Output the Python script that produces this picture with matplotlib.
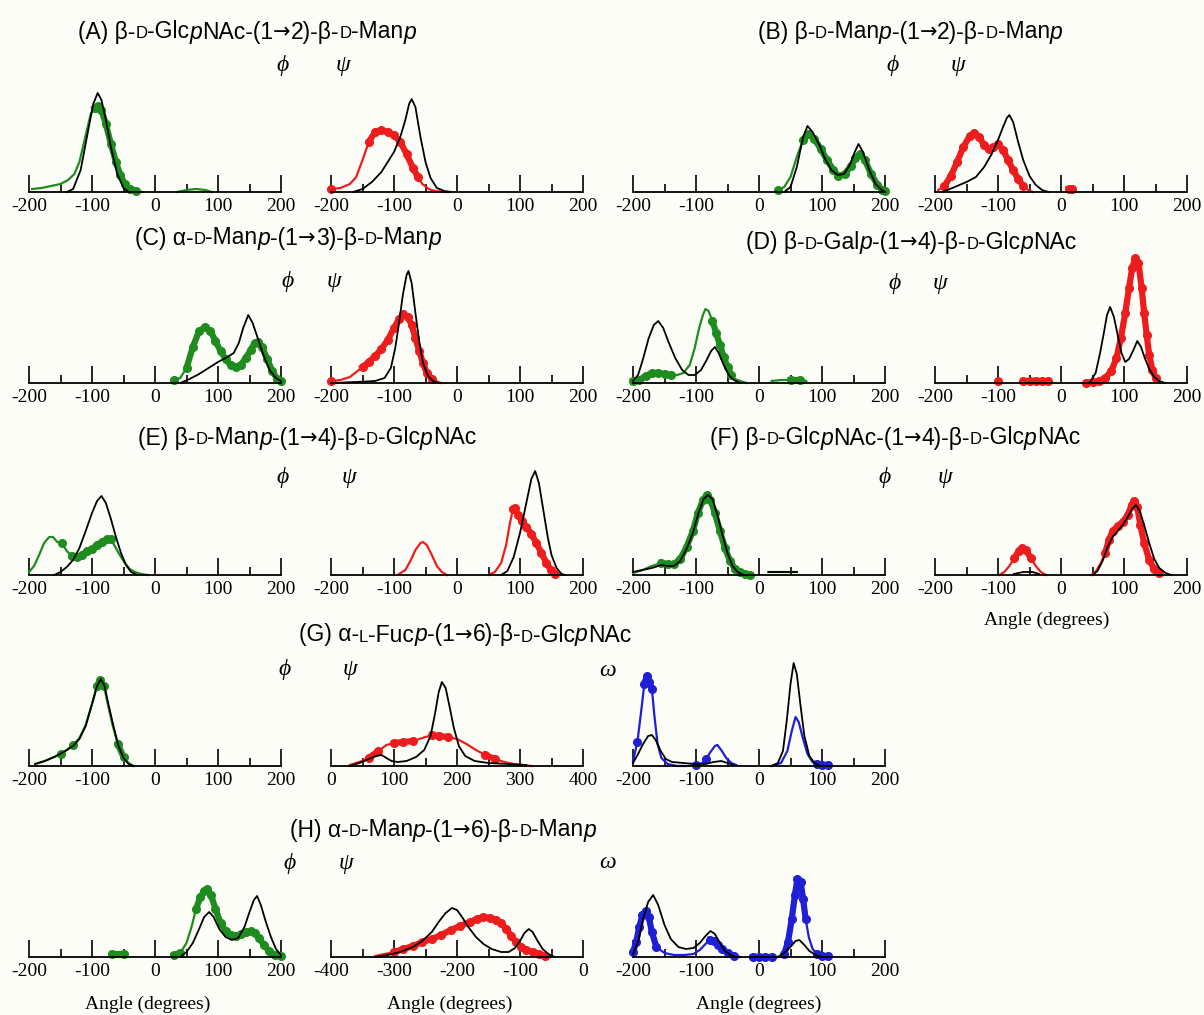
import numpy as np
import matplotlib
matplotlib.use('Agg')
import matplotlib.pyplot as plt
from matplotlib.offsetbox import TextArea, HPacker, AnnotationBbox

nan = float('nan')

# ---------------- data (angle in degrees, population density in arbitrary units) -------------
A_phi_black = [(-140,0),(-130,3),(-118,22),(-106,62),(-98,88),(-91,99),(-85,92),(-78,72),(-70,45),(-60,18),(-50,4),(-42,0)]
A_phi_green = [(-195,3),(-180,4),(-165,6),(-150,8),(-138,12),(-128,18),(-120,30),(-114,46),(-108,62),(-102,78),(-96,84),(-91,86),(-85,82),(-78,68),(-70,48),(-62,30),(-55,17),(-48,8),(-40,3),(-30,1),(-20,0),(25,nan),(35,0),(50,2),(65,3),(80,2),(90,0)]
A_phi_marks = [(-100,-30)]
A_psi_black = [(-165,0),(-150,3),(-135,10),(-120,20),(-110,30),(-100,40),(-90,55),(-82,72),(-76,88),(-72,93),(-66,85),(-58,55),(-50,30),(-42,14),(-32,4),(-20,1),(-10,0)]
A_psi_red = [(-200,3),(-185,4),(-170,8),(-160,15),(-150,32),(-140,50),(-130,60),(-120,62),(-110,60),(-100,57),(-90,50),(-80,38),(-70,24),(-62,15),(-55,8),(-45,3),(-35,1),(-20,0),(-10,0)]
A_psi_marks = [(-200,-200),(-140,-60)]

B_phi_black = [(40,0),(50,5),(60,25),(70,55),(77,66),(85,60),(95,48),(105,33),(115,22),(125,17),(135,18),(145,28),(152,40),(158,48),(165,40),(175,22),(185,8),(195,2),(200,0)]
B_phi_green = [(30,2),(40,5),(50,15),(60,35),(70,52),(78,58),(88,53),(98,43),(108,32),(118,22),(126,16),(136,18),(146,26),(153,34),(160,38),(168,32),(178,18),(188,7),(196,2),(200,1)]
B_phi_marks = [(30,30),(65,200)]
B_psi_black = [(-190,0),(-180,2),(-165,6),(-150,10),(-135,15),(-122,25),(-110,38),(-100,52),(-92,65),(-86,74),(-82,77),(-76,70),(-68,50),(-60,32),(-50,16),(-40,7),(-30,2),(-20,0)]
B_psi_red = [(-195,2),(-185,6),(-175,16),(-165,30),(-155,45),(-145,56),(-138,59),(-130,55),(-122,47),(-115,43),(-108,45),(-100,48),(-92,42),(-84,32),(-76,22),(-68,13),(-60,6),(-52,2),(-45,0),(0,nan),(12,3),(18,3)]
B_psi_marks = [(-185,-60),(10,20)]

C_phi_black = [(40,0),(55,4),(70,9),(85,15),(100,21),(115,26),(125,30),(133,40),(140,55),(148,68),(155,60),(163,45),(172,28),(182,13),(192,5),(200,2)]
C_phi_green = [(30,3),(40,5),(50,15),(60,36),(70,52),(80,56),(88,52),(96,42),(104,32),(112,24),(120,18),(128,16),(136,18),(144,25),(152,33),(158,40),(164,41),(170,36),(178,24),(186,12),(194,4),(200,2)]
C_phi_marks = [(30,30),(50,200)]
C_psi_black = [(-200,0),(-160,1),(-130,2),(-115,5),(-105,15),(-98,35),(-92,60),(-86,88),(-80,108),(-77,112),(-72,100),(-66,70),(-60,42),(-54,20),(-46,7),(-38,2),(-30,0)]
C_psi_red = [(-200,2),(-185,3),(-170,6),(-158,12),(-150,16),(-140,21),(-130,27),(-120,34),(-110,43),(-100,55),(-92,64),(-85,69),(-78,66),(-72,58),(-66,45),(-60,32),(-54,20),(-48,10),(-40,4),(-30,1),(-25,0)]
C_psi_marks = [(-200,-200),(-155,-40)]

D_phi_black = [(-200,2),(-192,8),(-185,22),(-175,45),(-167,58),(-160,62),(-152,55),(-143,40),(-133,25),(-122,13),(-112,8),(-102,8),(-92,13),(-84,22),(-76,32),(-70,36),(-64,30),(-56,18),(-48,8),(-40,3),(-30,0)]
D_phi_green = [(-200,2),(-190,3),(-180,7),(-170,10),(-160,10),(-150,9),(-140,8),(-130,8),(-120,10),(-110,18),(-102,35),(-95,55),(-89,68),(-85,74),(-80,72),(-74,62),(-68,50),(-62,38),(-56,26),(-50,16),(-44,8),(-38,4),(-30,2),(-20,0),(10,nan),(20,2),(35,3),(50,3),(65,3),(75,2)]
D_phi_marks = [(-200,-140),(-75,-40),(40,70)]
D_psi_black = [(45,0),(55,10),(62,30),(68,50),(73,68),(78,76),(84,66),(90,48),(96,30),(102,21),(108,24),(115,33),(121,42),(127,36),(133,25),(140,14),(148,6),(156,2),(165,0)]
D_psi_red = [(-100,2),(-90,nan),(-60,2),(-50,2),(-40,2),(-30,2),(-20,2),(-10,nan),(40,0),(50,1),(60,2),(70,5),(80,12),(88,25),(95,45),(102,70),(108,95),(113,115),(118,125),(123,120),(128,95),(132,70),(136,48),(140,28),(145,13),(150,5),(155,1)]
D_psi_marks = [(-100,-20),(40,150)]

E_phi_black = [(-160,0),(-150,3),(-140,8),(-130,15),(-120,27),(-110,44),(-100,62),(-92,74),(-85,79),(-78,72),(-70,56),(-62,38),(-54,22),(-46,10),(-38,3),(-28,0)]
E_phi_green = [(-200,3),(-192,9),(-184,20),(-176,32),(-168,38),(-162,38),(-155,33),(-148,32),(-140,24),(-132,19),(-124,18),(-116,20),(-108,24),(-100,26),(-92,30),(-84,33),(-76,36),(-70,36),(-63,28),(-56,20),(-48,12),(-40,6),(-32,3),(-22,1),(-12,0)]
E_phi_marks = [(-150,-146),(-132,-65)]
E_psi_black = [(70,0),(80,4),(90,18),(100,42),(110,72),(118,96),(124,104),(130,92),(137,65),(144,38),(150,20),(158,7),(166,1),(172,0)]
E_psi_red = [(-92,1),(-82,5),(-74,14),(-66,25),(-58,32),(-54,33),(-48,30),(-40,20),(-32,9),(-24,3),(-16,0),(0,nan),(50,0),(60,3),(70,12),(78,30),(84,52),(89,66),(92,67),(97,60),(103,54),(110,48),(118,41),(126,32),(134,22),(142,12),(149,5),(155,1)]
E_psi_marks = [(89,155)]

F_phi_black = [(-200,3),(-185,5),(-170,7),(-155,10),(-145,9),(-135,9),(-125,14),(-115,26),(-105,42),(-96,62),(-88,76),(-81,80),(-74,76),(-66,60),(-58,40),(-50,22),(-42,9),(-34,3),(-24,0),(0,nan),(15,3),(60,3)]
F_phi_green = [(-200,2),(-185,5),(-170,9),(-155,12),(-145,11),(-135,11),(-125,16),(-115,28),(-105,44),(-97,62),(-89,75),(-83,80),(-77,75),(-70,62),(-62,44),(-54,27),(-46,14),(-38,6),(-30,3),(-22,1),(-15,0),(0,nan),(15,3),(30,3),(45,3),(60,3)]
F_phi_marks = [(-160,-15)]
F_psi_black = [(-75,1),(-60,3),(-45,3),(-35,1),(0,nan),(50,0),(58,4),(66,14),(74,28),(82,38),(90,44),(98,50),(106,58),(113,66),(119,70),(125,64),(132,50),(140,32),(148,16),(156,7),(166,2),(175,0)]
F_psi_red = [(-98,0),(-90,3),(-82,9),(-74,17),(-67,24),(-62,27),(-56,25),(-48,17),(-40,9),(-32,3),(-24,0),(0,nan),(48,0),(56,4),(64,13),(70,22),(76,35),(82,44),(90,49),(98,53),(106,60),(112,70),(116,74),(121,68),(126,50),(132,32),(140,15),(148,6),(156,2),(162,0)]
F_psi_marks = [(-75,-45),(70,160)]

G_phi_black = [(-190,2),(-175,5),(-160,9),(-145,14),(-130,20),(-120,27),(-110,40),(-100,62),(-92,80),(-86,87),(-80,80),(-74,62),(-66,40),(-58,20),(-50,8),(-42,2),(-34,0)]
G_phi_green = [(-190,2),(-175,5),(-160,9),(-150,12),(-140,16),(-130,21),(-120,28),(-110,41),(-100,62),(-92,80),(-87,86),(-81,80),(-75,62),(-67,40),(-59,22),(-50,9),(-42,3),(-34,0)]
G_phi_marks = [(-150,-150),(-130,-130),(-92,-81),(-59,-50)]
G_psi_black = [(30,0),(45,3),(60,7),(72,10),(80,11),(88,8),(96,5),(106,4),(120,5),(135,9),(148,16),(158,30),(165,52),(171,74),(176,84),(182,78),(188,60),(195,38),(203,20),(213,10),(228,5),(250,3),(280,2),(310,1)]
G_psi_red = [(30,1),(45,4),(60,8),(75,15),(88,21),(100,23),(115,24),(130,25),(145,28),(160,31),(172,30),(185,29),(200,27),(215,22),(230,16),(245,11),(260,7),(275,4),(290,2),(305,1),(318,0)]
G_psi_marks = [(60,75),(100,100),(115,130),(160,185),(245,260)]
G_omega_black = [(-200,3),(-192,12),(-184,22),(-176,30),(-170,31),(-164,26),(-156,15),(-148,7),(-138,4),(-120,3),(-100,2),(-85,2),(-72,4),(-60,5),(-50,3),(-40,1),(0,nan),(20,0),(30,3),(38,15),(44,45),(50,82),(55,103),(60,92),(66,60),(72,30),(80,10),(88,3),(98,0)]
G_omega_blue = [(-200,5),(-193,24),(-187,55),(-182,82),(-178,90),(-174,84),(-170,77),(-166,50),(-161,22),(-155,8),(-145,2),(-130,0),(-115,0),(-100,1),(-90,3),(-84,7),(-77,14),(-70,20),(-66,21),(-60,16),(-52,8),(-44,3),(-36,1),(0,nan),(20,0),(35,3),(45,15),(52,35),(58,49),(63,44),(70,27),(77,12),(85,4),(92,2),(100,1),(110,1)]
G_omega_marks = [(-193,-193),(-182,-170),(-100,-100),(-84,-84),(92,110)]

H_phi_black = [(40,0),(50,5),(60,14),(70,28),(78,40),(86,45),(93,40),(102,28),(112,20),(122,17),(132,19),(142,30),(150,45),(157,57),(162,61),(168,52),(176,35),(184,20),(192,8),(200,2)]
H_phi_green = [(-68,3),(-50,3),(0,nan),(30,2),(40,4),(50,14),(58,30),(65,48),(72,60),(78,66),(83,68),(89,62),(96,48),(104,34),(112,26),(120,22),(128,21),(136,23),(144,25),(152,26),(158,24),(165,19),(173,12),(181,6),(190,2),(200,1)]
H_phi_marks = [(-68,-50),(30,45),(65,200)]
H_psi_black = [(-330,0),(-310,2),(-290,5),(-270,10),(-255,16),(-240,25),(-228,36),(-218,44),(-208,49),(-200,47),(-192,40),(-182,30),(-170,20),(-158,13),(-145,8),(-130,5),(-118,5),(-108,9),(-100,16),(-93,24),(-86,28),(-80,25),(-72,16),(-64,8),(-55,3),(-45,0)]
H_psi_red = [(-330,1),(-315,3),(-300,5),(-285,8),(-270,11),(-255,15),(-240,18),(-225,22),(-210,27),(-195,31),(-180,35),(-168,38),(-158,40),(-148,39),(-138,37),(-130,34),(-122,28),(-114,21),(-106,15),(-98,10),(-90,7),(-80,5),(-70,3),(-60,1),(-52,0)]
H_psi_marks = [(-300,-60)]
H_omega_black = [(-200,3),(-192,15),(-184,38),(-176,55),(-168,62),(-160,52),(-150,32),(-140,18),(-128,10),(-116,8),(-104,9),(-94,14),(-85,21),(-77,26),(-70,23),(-62,14),(-54,6),(-45,2),(-38,0),(0,nan),(30,0),(40,4),(50,10),(58,16),(64,17),(72,12),(80,6),(90,2),(100,0)]
H_omega_blue = [(-200,5),(-195,15),(-190,30),(-185,42),(-180,46),(-175,40),(-170,25),(-163,10),(-150,4),(-135,2),(-118,2),(-104,3),(-94,7),(-85,13),(-78,17),(-72,16),(-65,12),(-58,8),(-50,4),(-40,1),(-30,0),(-20,nan),(-10,0),(0,0),(10,0),(20,0),(30,0),(40,3),(46,15),(52,38),(57,62),(61,78),(66,75),(70,58),(74,38),(79,20),(85,8),(92,3),(100,1),(110,1)]
H_omega_marks = [(-200,-160),(-80,-40),(-10,20),(40,75),(92,110)]

titles = {
    'A': [("(A) β-", 'n'), ("D", 'sc'), ("-Glc", 'n'), ("p", 'it'), ("NAc-(1", 'n'), ("→", 'ar'), ("2)-β-", 'n'), ("D", 'sc'), ("-Man", 'n'), ("p", 'it')],
    'B': [("(B) β-", 'n'), ("D", 'sc'), ("-Man", 'n'), ("p", 'it'), ("-(1", 'n'), ("→", 'ar'), ("2)-β-", 'n'), ("D", 'sc'), ("-Man", 'n'), ("p", 'it')],
    'C': [("(C) α-", 'n'), ("D", 'sc'), ("-Man", 'n'), ("p", 'it'), ("-(1", 'n'), ("→", 'ar'), ("3)-β-", 'n'), ("D", 'sc'), ("-Man", 'n'), ("p", 'it')],
    'D': [("(D) β-", 'n'), ("D", 'sc'), ("-Gal", 'n'), ("p", 'it'), ("-(1", 'n'), ("→", 'ar'), ("4)-β-", 'n'), ("D", 'sc'), ("-Glc", 'n'), ("p", 'it'), ("NAc", 'n')],
    'E': [("(E) β-", 'n'), ("D", 'sc'), ("-Man", 'n'), ("p", 'it'), ("-(1", 'n'), ("→", 'ar'), ("4)-β-", 'n'), ("D", 'sc'), ("-Glc", 'n'), ("p", 'it'), ("NAc", 'n')],
    'F': [("(F) β-", 'n'), ("D", 'sc'), ("-Glc", 'n'), ("p", 'it'), ("NAc-(1", 'n'), ("→", 'ar'), ("4)-β-", 'n'), ("D", 'sc'), ("-Glc", 'n'), ("p", 'it'), ("NAc", 'n')],
    'G': [("(G) α-", 'n'), ("L", 'sc'), ("-Fuc", 'n'), ("p", 'it'), ("-(1", 'n'), ("→", 'ar'), ("6)-β-", 'n'), ("D", 'sc'), ("-Glc", 'n'), ("p", 'it'), ("NAc", 'n')],
    'H': [("(H) α-", 'n'), ("D", 'sc'), ("-Man", 'n'), ("p", 'it'), ("-(1", 'n'), ("→", 'ar'), ("6)-β-", 'n'), ("D", 'sc'), ("-Man", 'n'), ("p", 'it')],
}
axis_label = "Angle (degrees)"

# ---------------- layout / style ----------------
W, H = 1204, 1015
fig = plt.figure(figsize=(W / 100, H / 100), dpi=100)
fig.patch.set_facecolor('#fdfdf8')

COL_X = [29, 331, 633, 935]
AX_W = 252
AX_H = 150
ROW_BASE = [192, 383, 575, 766, 957]

GREEN = '#1e8c1e'
RED = '#ee1d1d'
BLUE = '#1f1fd6'
SANS = ['Liberation Sans', 'DejaVu Sans']
SERIF = ['Liberation Serif', 'DejaVu Serif']


def split(pts):
    x = np.array([p[0] for p in pts], dtype=float)
    y = np.array([p[1] for p in pts], dtype=float)
    return x, y


def panel(col, row, xlim, black, colored, color, marks):
    ax = fig.add_axes([COL_X[col] / W, 1 - ROW_BASE[row] / H, AX_W / W, AX_H / H])
    ax.patch.set_visible(False)
    ax.set_xlim(*xlim)
    ax.set_ylim(0, AX_H)
    for s in ('top', 'left', 'right'):
        ax.spines[s].set_visible(False)
    ax.spines['bottom'].set_linewidth(1.3)
    ax.set_yticks([])
    major = np.arange(xlim[0], xlim[1] + 1, 100)
    minor = np.arange(xlim[0] + 50, xlim[1], 100)
    ax.set_xticks(major)
    ax.set_xticklabels([str(int(t)) for t in major], family=SERIF, fontsize=14)
    ax.set_xticks(minor, minor=True)
    ax.tick_params(axis='x', which='major', direction='in', length=12, width=1.2, pad=4)
    ax.tick_params(axis='x', which='minor', direction='in', length=6, width=1.2)

    cx, cy = split(colored)
    ax.plot(cx, cy, color=color, lw=1.6, clip_on=False, zorder=2)
    mask = np.zeros(len(cx), dtype=bool)
    for lo, hi in marks:
        mask |= (cx >= lo) & (cx <= hi)
    my = np.where(mask, cy, np.nan)
    ax.plot(cx, my, color=color, lw=4.5, marker='o', ms=5.5, mec=color, mfc=color,
            clip_on=False, zorder=2)
    bx, by = split(black)
    ax.plot(bx, by, color='black', lw=1.3, clip_on=False, zorder=3)
    return ax


panels = [
    (0, 0, (-200, 200), A_phi_black, A_phi_green, GREEN, A_phi_marks),
    (1, 0, (-200, 200), A_psi_black, A_psi_red, RED, A_psi_marks),
    (2, 0, (-200, 200), B_phi_black, B_phi_green, GREEN, B_phi_marks),
    (3, 0, (-200, 200), B_psi_black, B_psi_red, RED, B_psi_marks),
    (0, 1, (-200, 200), C_phi_black, C_phi_green, GREEN, C_phi_marks),
    (1, 1, (-200, 200), C_psi_black, C_psi_red, RED, C_psi_marks),
    (2, 1, (-200, 200), D_phi_black, D_phi_green, GREEN, D_phi_marks),
    (3, 1, (-200, 200), D_psi_black, D_psi_red, RED, D_psi_marks),
    (0, 2, (-200, 200), E_phi_black, E_phi_green, GREEN, E_phi_marks),
    (1, 2, (-200, 200), E_psi_black, E_psi_red, RED, E_psi_marks),
    (2, 2, (-200, 200), F_phi_black, F_phi_green, GREEN, F_phi_marks),
    (3, 2, (-200, 200), F_psi_black, F_psi_red, RED, F_psi_marks),
    (0, 3, (-200, 200), G_phi_black, G_phi_green, GREEN, G_phi_marks),
    (1, 3, (0, 400), G_psi_black, G_psi_red, RED, G_psi_marks),
    (2, 3, (-200, 200), G_omega_black, G_omega_blue, BLUE, G_omega_marks),
    (0, 4, (-200, 200), H_phi_black, H_phi_green, GREEN, H_phi_marks),
    (1, 4, (-400, 0), H_psi_black, H_psi_red, RED, H_psi_marks),
    (2, 4, (-200, 200), H_omega_black, H_omega_blue, BLUE, H_omega_marks),
]
for p in panels:
    panel(*p)


def rich_title(key, x_px, y_px):
    kids = []
    for txt, kind in titles[key]:
        if kind == 'sc':
            props = dict(family=SANS, fontsize=12, color='black')
        elif kind == 'it':
            props = dict(family=SANS, fontsize=16.5, style='italic', color='black')
        elif kind == 'ar':
            props = dict(family=['DejaVu Sans'], fontsize=15, color='black')
        else:
            props = dict(family=SANS, fontsize=16.5, color='black')
        kids.append(TextArea(txt, textprops=props))
    pack = HPacker(children=kids, align='baseline', pad=0, sep=0)
    ab = AnnotationBbox(pack, (x_px / W, 1 - y_px / H), xycoords='figure fraction',
                        frameon=False, box_alignment=(0.5, 0.5), pad=0)
    fig.add_artist(ab)


title_pos = {'A': (247, 32), 'B': (910, 32), 'C': (288, 238), 'D': (911, 242),
             'E': (307, 438), 'F': (895, 438), 'G': (465, 635), 'H': (443, 830)}
for k, (tx, ty) in title_pos.items():
    rich_title(k, tx, ty)

greek = [('ϕ', 283, 65), ('ψ', 343, 65), ('ϕ', 893, 65), ('ψ', 958, 65),
         ('ϕ', 288, 282), ('ψ', 334, 282), ('ϕ', 895, 284), ('ψ', 940, 284),
         ('ϕ', 283, 478), ('ψ', 349, 478), ('ϕ', 885, 478), ('ψ', 945, 478),
         ('ϕ', 285, 670), ('ψ', 350, 670), ('ω', 608, 670),
         ('ϕ', 290, 863), ('ψ', 346, 863), ('ω', 608, 863)]
for g, gx, gy in greek:
    fig.text(gx / W, 1 - gy / H, g, family=SERIF, style='italic', fontsize=17,
             ha='center', va='center')

for lx, ly in [(1047, 620), (148, 1004), (450, 1004), (759, 1004)]:
    fig.text(lx / W, 1 - ly / H, axis_label, family=SERIF, fontsize=14,
             ha='center', va='center')

fig.savefig('out.png', dpi=100, facecolor=fig.get_facecolor())
